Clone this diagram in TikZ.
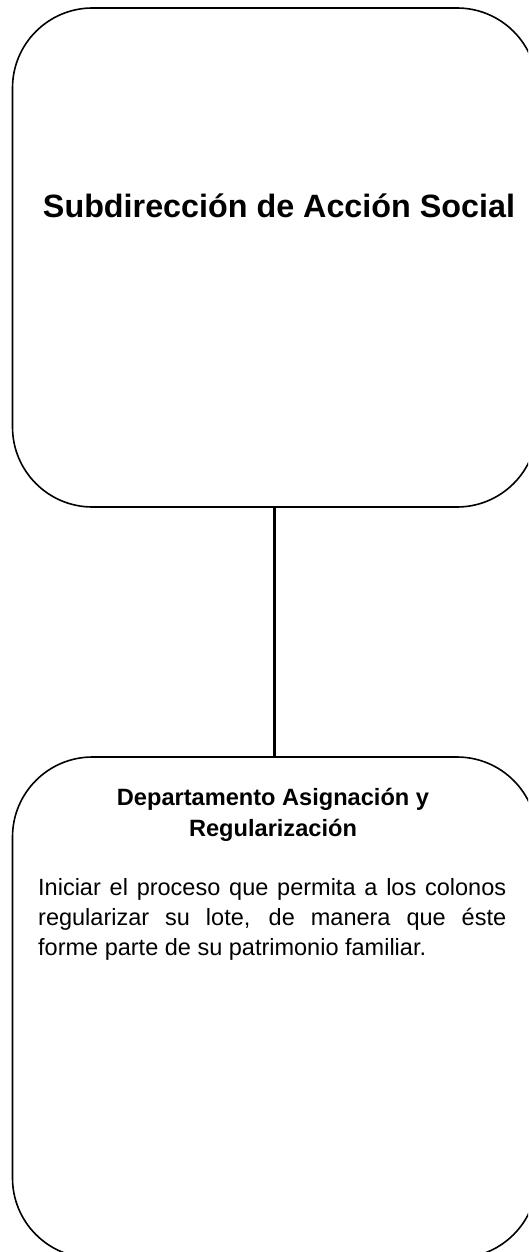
\documentclass[tikz,border=0pt]{standalone}
\usepackage{fontspec}
\setmainfont{Liberation Sans}
\begin{document}
\begin{tikzpicture}[x=1pt,y=1pt,
  unitbox/.style={draw=black, line width=1.6pt, rounded corners=80pt, inner sep=0pt,
    minimum width=524.5pt},
  link/.style={draw=black, line width=2.6pt},
  titletext/.style={inner sep=0pt, font=\bfseries\fontsize{32.3}{38}\selectfont},
  headtext/.style={inner sep=0pt, align=center, font=\bfseries\fontsize{23.6}{30.5}\selectfont},
  bodytext/.style={inner sep=0pt, font=\fontsize{23.5}{30}\selectfont}]
\useasboundingbox (0,0) rectangle (528,-1252);
\clip (0,0) rectangle (528,-1252);
\node[unitbox, minimum height=499pt] (top) at (274.75,-257.5) {};
\node[unitbox, minimum height=501pt] (bottom) at (274.75,-1007.5) {};
\draw[link] (top.south) -- (bottom.north);
\node[titletext, anchor=base] (title) at (279,-217) {Subdirección de Acción Social};
\node[headtext, anchor=north] (head) at (273,-788) {Departamento Asignación y\\Regularización};
\node[bodytext, anchor=north west] (body) at (38,-878) {\parbox[t]{468pt}{\hyphenpenalty=10000\exhyphenpenalty=10000\parindent=0pt\spaceskip=\fontdimen2\font plus 2em minus 0pt\relax\tolerance=9999 Iniciar el proceso que permita a los colonos regularizar su lote, de manera que éste forme parte de su patrimonio familiar.}};
\end{tikzpicture}
\end{document}
